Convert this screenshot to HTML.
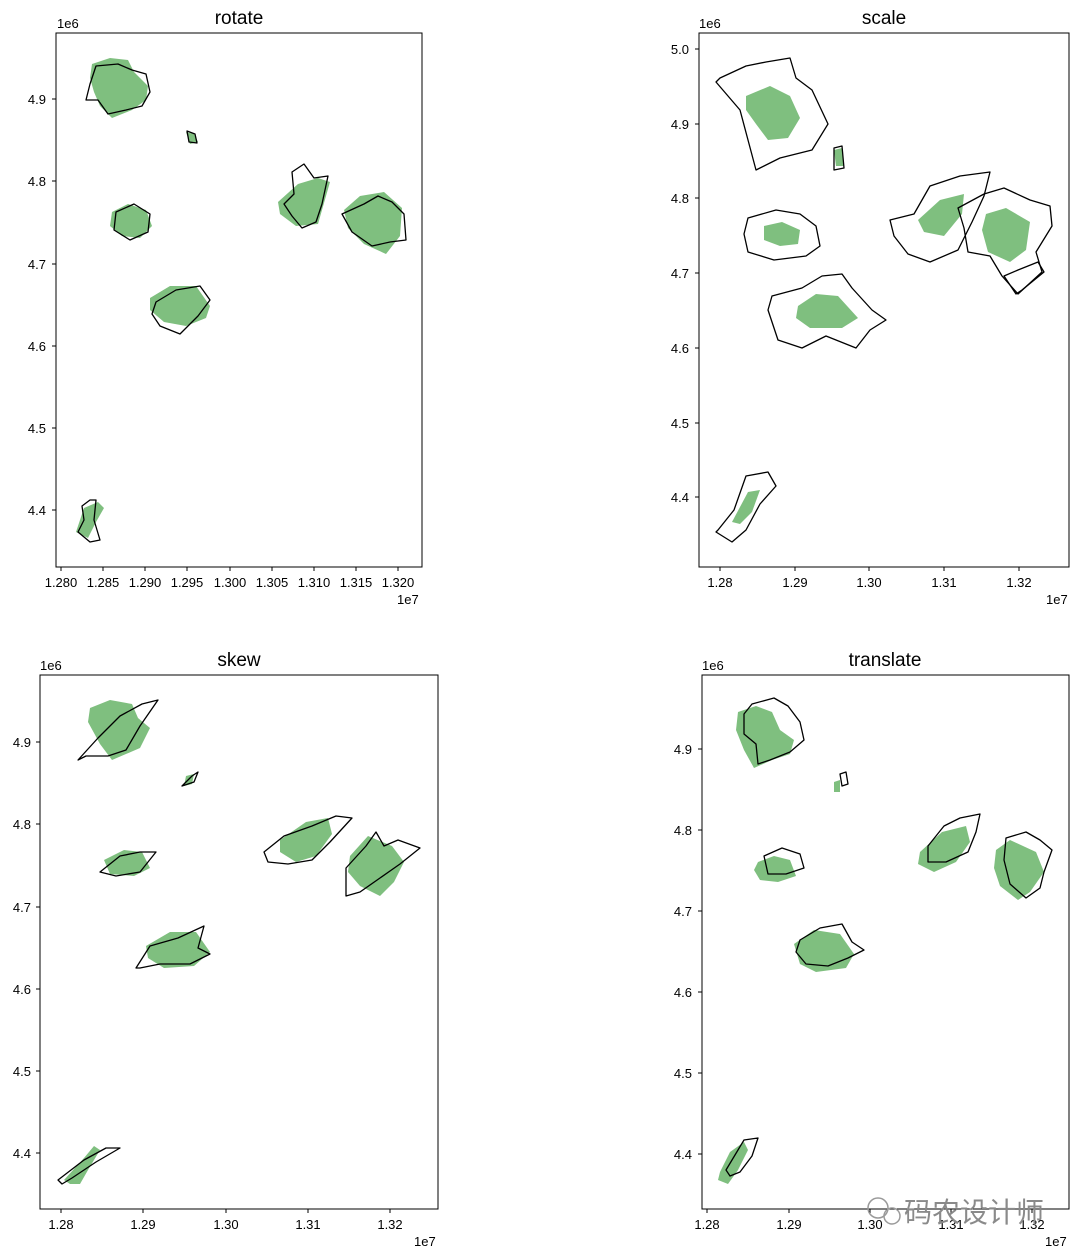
<!DOCTYPE html>
<html><head><meta charset="utf-8"><style>
body{margin:0;background:#fff;width:1080px;height:1259px;overflow:hidden}
svg{position:absolute;left:0;top:0}
text{font-family:"Liberation Sans","DejaVu Sans",sans-serif;fill:#000}
.t{font-size:13px}
.ti{font-size:19px}
.g{fill:#7fbf7f;stroke:none}
.o{fill:none;stroke:#000;stroke-width:1.3;stroke-linejoin:round}
</style></head><body>
<svg width="1080" height="1259" viewBox="0 0 1080 1259">
<!-- Panel 1 rotate -->
<rect x="56" y="33" width="366" height="534" fill="none" stroke="#000" stroke-width="1"/>
<text class="ti" x="239" y="24" text-anchor="middle">rotate</text>
<text class="t" x="57" y="28">1e6</text>
<text class="t" x="397" y="604">1e7</text>
<g class="t" text-anchor="end">
<text x="46" y="104">4.9</text><text x="46" y="186">4.8</text><text x="46" y="269">4.7</text><text x="46" y="351">4.6</text><text x="46" y="433">4.5</text><text x="46" y="515">4.4</text></g>
<g stroke="#000"><line x1="52" x2="56" y1="99" y2="99"/><line x1="52" x2="56" y1="181" y2="181"/><line x1="52" x2="56" y1="264" y2="264"/><line x1="52" x2="56" y1="346" y2="346"/><line x1="52" x2="56" y1="428" y2="428"/><line x1="52" x2="56" y1="510" y2="510"/>
<line y1="567" y2="571" x1="61" x2="61"/><line y1="567" y2="571" x1="103" x2="103"/><line y1="567" y2="571" x1="145" x2="145"/><line y1="567" y2="571" x1="187" x2="187"/><line y1="567" y2="571" x1="230" x2="230"/><line y1="567" y2="571" x1="272" x2="272"/><line y1="567" y2="571" x1="314" x2="314"/><line y1="567" y2="571" x1="356" x2="356"/><line y1="567" y2="571" x1="398" x2="398"/></g>
<g class="t" text-anchor="middle"><text x="61" y="587">1.280</text><text x="103" y="587">1.285</text><text x="145" y="587">1.290</text><text x="187" y="587">1.295</text><text x="230" y="587">1.300</text><text x="272" y="587">1.305</text><text x="314" y="587">1.310</text><text x="356" y="587">1.315</text><text x="398" y="587">1.320</text></g>
<path class="g" d="M92,64 L110,58 L128,60 L134,72 L148,86 L146,100 L132,110 L112,118 L100,106 L94,92 L90,78Z"/>
<path class="o" d="M96,66 L118,64 L132,70 L146,74 L150,92 L142,106 L126,110 L108,114 L98,100 L86,100 L90,84Z"/>
<path class="g" d="M186,132 L194,134 L198,142 L190,144Z"/><path class="o" d="M187,131 L195,134 L197,143 L189,142Z"/>
<path class="g" d="M112,212 L128,204 L146,210 L152,226 L140,238 L122,236 L110,226Z"/>
<path class="o" d="M116,212 L134,204 L150,214 L148,232 L130,240 L114,230Z"/>
<path class="g" d="M150,298 L170,286 L196,286 L210,306 L206,318 L186,326 L164,322 L150,310Z"/>
<path class="o" d="M156,302 L176,290 L200,286 L210,300 L198,316 L180,334 L160,326 L152,314Z"/>
<path class="g" d="M278,202 L298,184 L318,178 L330,182 L322,210 L318,224 L296,226 L280,214Z"/>
<path class="o" d="M292,172 L304,164 L314,178 L328,176 L322,204 L316,222 L302,228 L292,216 L284,204 L294,194Z"/>
<path class="g" d="M344,210 L360,196 L384,192 L402,208 L400,236 L386,254 L364,244 L348,228Z"/>
<path class="o" d="M342,214 L364,204 L378,196 L392,202 L404,214 L406,240 L390,242 L372,246 L352,232Z"/>
<path class="g" d="M84,508 L98,502 L104,508 L96,522 L88,538 L76,532Z"/>
<path class="o" d="M82,506 L90,500 L96,500 L94,520 L100,540 L90,542 L78,532 L84,520Z"/>

<!-- Panel 2 scale -->
<rect x="699" y="33" width="370" height="534" fill="none" stroke="#000" stroke-width="1"/>
<text class="ti" x="884" y="24" text-anchor="middle">scale</text>
<text class="t" x="699" y="28">1e6</text>
<text class="t" x="1046" y="604">1e7</text>
<g class="t" text-anchor="end"><text x="689" y="54">5.0</text><text x="689" y="129">4.9</text><text x="689" y="203">4.8</text><text x="689" y="278">4.7</text><text x="689" y="353">4.6</text><text x="689" y="428">4.5</text><text x="689" y="502">4.4</text></g>
<g stroke="#000"><line x1="695" x2="699" y1="49" y2="49"/><line x1="695" x2="699" y1="124" y2="124"/><line x1="695" x2="699" y1="198" y2="198"/><line x1="695" x2="699" y1="273" y2="273"/><line x1="695" x2="699" y1="348" y2="348"/><line x1="695" x2="699" y1="423" y2="423"/><line x1="695" x2="699" y1="497" y2="497"/>
<line y1="567" y2="571" x1="720" x2="720"/><line y1="567" y2="571" x1="795" x2="795"/><line y1="567" y2="571" x1="869" x2="869"/><line y1="567" y2="571" x1="944" x2="944"/><line y1="567" y2="571" x1="1019" x2="1019"/></g>
<g class="t" text-anchor="middle"><text x="720" y="587">1.28</text><text x="795" y="587">1.29</text><text x="869" y="587">1.30</text><text x="944" y="587">1.31</text><text x="1019" y="587">1.32</text></g>
<path class="g" d="M746,96 L770,86 L790,96 L800,118 L788,138 L768,140 L756,124 L746,110Z"/>
<path class="o" d="M720,78 L746,66 L766,62 L790,58 L796,78 L812,90 L828,124 L812,150 L780,158 L756,170 L748,140 L740,110 L716,82Z"/>
<path class="g" d="M834,150 L842,148 L844,166 L836,166Z"/><path class="o" d="M834,148 L842,146 L844,168 L834,170Z"/>
<path class="g" d="M764,226 L782,222 L800,230 L798,244 L780,246 L764,240Z"/>
<path class="o" d="M748,218 L776,210 L800,214 L816,226 L820,246 L806,256 L774,260 L748,252 L744,234Z"/>
<path class="g" d="M798,306 L816,294 L838,296 L858,318 L842,328 L810,328 L796,318Z"/>
<path class="o" d="M772,296 L802,288 L822,276 L842,274 L852,288 L872,310 L886,320 L870,330 L856,348 L826,336 L802,348 L778,340 L768,310Z"/>
<path class="g" d="M918,220 L940,200 L964,194 L962,214 L944,236 L924,232Z"/>
<path class="o" d="M890,220 L914,214 L930,186 L960,176 L990,172 L984,196 L972,222 L958,250 L930,262 L908,254 L894,236Z"/>
<path class="g" d="M986,214 L1006,208 L1030,222 L1026,250 L1010,262 L988,252 L982,230Z"/>
<path class="o" d="M958,208 L984,194 L1004,188 L1030,200 L1050,206 L1052,226 L1036,252 L1042,272 L1018,294 L1002,276 L990,256 L968,252 L964,228Z"/>
<path class="o" d="M1004,276 L1018,270 L1038,262 L1044,272 L1022,290 L1016,294Z"/>
<path class="g" d="M732,522 L748,492 L760,490 L752,512 L740,524Z"/>
<path class="o" d="M718,530 L734,510 L746,476 L768,472 L776,486 L760,504 L746,530 L732,542 L716,532Z"/>

<!-- Panel 3 skew -->
<rect x="40" y="675" width="398" height="534" fill="none" stroke="#000" stroke-width="1"/>
<text class="ti" x="239" y="666" text-anchor="middle">skew</text>
<text class="t" x="40" y="670">1e6</text>
<text class="t" x="414" y="1246">1e7</text>
<g class="t" text-anchor="end"><text x="31" y="747">4.9</text><text x="31" y="829">4.8</text><text x="31" y="912">4.7</text><text x="31" y="994">4.6</text><text x="31" y="1076">4.5</text><text x="31" y="1158">4.4</text></g>
<g stroke="#000"><line x1="36" x2="40" y1="742" y2="742"/><line x1="36" x2="40" y1="824" y2="824"/><line x1="36" x2="40" y1="907" y2="907"/><line x1="36" x2="40" y1="989" y2="989"/><line x1="36" x2="40" y1="1071" y2="1071"/><line x1="36" x2="40" y1="1153" y2="1153"/>
<line y1="1209" y2="1213" x1="61" x2="61"/><line y1="1209" y2="1213" x1="143" x2="143"/><line y1="1209" y2="1213" x1="226" x2="226"/><line y1="1209" y2="1213" x1="308" x2="308"/><line y1="1209" y2="1213" x1="390" x2="390"/></g>
<g class="t" text-anchor="middle"><text x="61" y="1229">1.28</text><text x="143" y="1229">1.29</text><text x="226" y="1229">1.30</text><text x="308" y="1229">1.31</text><text x="390" y="1229">1.32</text></g>
<path class="g" d="M90,708 L110,700 L132,704 L138,718 L150,728 L140,748 L112,760 L100,744 L88,722Z"/>
<path class="o" d="M78,760 L98,738 L120,716 L142,704 L158,700 L140,726 L126,750 L108,756 L86,756Z"/>
<path class="g" d="M186,776 L194,774 L192,784 L184,786Z"/><path class="o" d="M182,786 L192,776 L198,772 L194,782Z"/>
<path class="g" d="M104,860 L124,850 L142,852 L150,868 L134,876 L110,874Z"/>
<path class="o" d="M100,872 L120,856 L140,852 L156,852 L140,872 L116,876Z"/>
<path class="g" d="M146,946 L170,932 L196,932 L210,952 L194,966 L164,968 L148,958Z"/>
<path class="o" d="M136,968 L150,946 L178,938 L204,926 L198,948 L210,954 L190,964 L160,964 L140,968Z"/>
<path class="g" d="M280,840 L306,822 L328,818 L332,834 L316,856 L296,862 L280,852Z"/>
<path class="o" d="M264,852 L284,836 L312,826 L336,816 L352,818 L330,842 L312,860 L288,864 L268,862Z"/>
<path class="g" d="M350,856 L368,836 L392,846 L404,862 L394,882 L380,896 L360,886 L348,872Z"/>
<path class="o" d="M346,868 L366,846 L376,832 L384,846 L398,840 L420,848 L400,864 L380,878 L360,892 L346,896Z"/>
<path class="g" d="M64,1180 L84,1158 L94,1146 L100,1150 L88,1170 L80,1184 L70,1184Z"/>
<path class="o" d="M58,1180 L84,1160 L106,1148 L120,1148 L96,1162 L72,1178 L62,1184Z"/>

<!-- Panel 4 translate -->
<rect x="702" y="675" width="367" height="534" fill="none" stroke="#000" stroke-width="1"/>
<text class="ti" x="885" y="666" text-anchor="middle">translate</text>
<text class="t" x="702" y="670">1e6</text>
<text class="t" x="1045" y="1246">1e7</text>
<g class="t" text-anchor="end"><text x="692" y="754">4.9</text><text x="692" y="835">4.8</text><text x="692" y="916">4.7</text><text x="692" y="997">4.6</text><text x="692" y="1078">4.5</text><text x="692" y="1159">4.4</text></g>
<g stroke="#000"><line x1="698" x2="702" y1="749" y2="749"/><line x1="698" x2="702" y1="830" y2="830"/><line x1="698" x2="702" y1="911" y2="911"/><line x1="698" x2="702" y1="992" y2="992"/><line x1="698" x2="702" y1="1073" y2="1073"/><line x1="698" x2="702" y1="1154" y2="1154"/>
<line y1="1209" y2="1213" x1="707" x2="707"/><line y1="1209" y2="1213" x1="789" x2="789"/><line y1="1209" y2="1213" x1="870" x2="870"/><line y1="1209" y2="1213" x1="951" x2="951"/><line y1="1209" y2="1213" x1="1032" x2="1032"/></g>
<g class="t" text-anchor="middle"><text x="707" y="1229">1.28</text><text x="789" y="1229">1.29</text><text x="870" y="1229">1.30</text><text x="951" y="1229">1.31</text><text x="1032" y="1229">1.32</text></g>
<path class="g" d="M738,712 L756,706 L772,712 L780,730 L794,740 L790,754 L772,760 L754,768 L744,750 L736,730Z"/>
<path class="o" d="M752,704 L774,698 L788,706 L800,722 L804,740 L790,752 L770,760 L758,764 L756,744 L744,734 L744,714Z"/>
<path class="g" d="M834,782 L840,780 L840,792 L834,792Z"/><path class="o" d="M840,774 L846,772 L848,784 L842,786Z"/>
<path class="g" d="M758,862 L774,856 L790,860 L796,876 L778,882 L760,880 L754,870Z"/>
<path class="o" d="M764,856 L782,848 L800,854 L804,868 L786,874 L768,874Z"/>
<path class="g" d="M794,944 L814,930 L840,934 L854,954 L846,968 L816,972 L800,964Z"/>
<path class="o" d="M800,940 L820,928 L842,924 L852,942 L864,950 L848,958 L828,966 L806,964 L796,952Z"/>
<path class="g" d="M920,852 L942,832 L966,826 L970,842 L956,862 L934,872 L918,864Z"/>
<path class="o" d="M928,846 L944,826 L960,818 L980,814 L976,832 L968,852 L946,862 L928,862Z"/>
<path class="g" d="M996,850 L1010,840 L1036,852 L1044,872 L1030,892 L1018,900 L1000,886 L994,868Z"/>
<path class="o" d="M1006,838 L1026,832 L1040,840 L1052,850 L1044,872 L1040,888 L1026,898 L1010,884 L1004,860Z"/>
<path class="g" d="M720,1172 L730,1152 L744,1142 L748,1150 L738,1170 L728,1184 L718,1180Z"/>
<path class="o" d="M726,1170 L738,1150 L744,1140 L758,1138 L752,1156 L740,1172 L730,1176Z"/>

<text x="904" y="1222" style="font-size:28px;fill:#8a8a8a;font-family:'Liberation Sans','Noto Sans CJK SC',sans-serif">码农设计师</text>
<circle cx="878" cy="1208" r="10" fill="none" stroke="#9a9a9a" stroke-width="1.5"/>
<circle cx="892" cy="1216" r="8" fill="none" stroke="#9a9a9a" stroke-width="1.5"/>
</svg>
</body></html>
